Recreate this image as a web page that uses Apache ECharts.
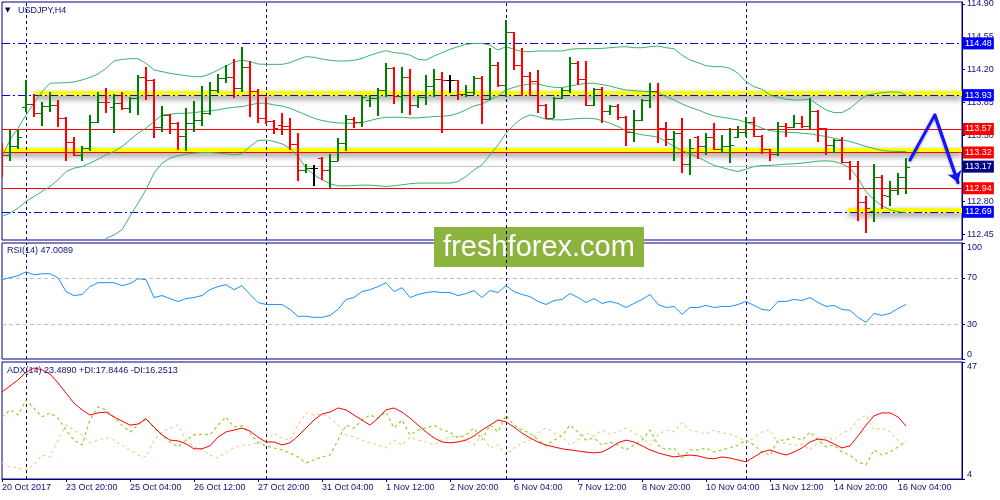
<!DOCTYPE html>
<html><head><meta charset="utf-8">
<script src="https://cdn.jsdelivr.net/npm/echarts@6/dist/echarts.min.js"></script>
<style>html,body{margin:0;padding:0;background:#fff}#c{width:1000px;height:500px}</style>
</head><body><div id="c"></div>
<script>
// ---------- DATA ----------
const tickLabels = ['20 Oct 2017','23 Oct 20:00','25 Oct 04:00','26 Oct 12:00','27 Oct 20:00','31 Oct 04:00','1 Nov 12:00','2 Nov 20:00','6 Nov 04:00','7 Nov 12:00','8 Nov 20:00','10 Nov 04:00','13 Nov 12:00','14 Nov 20:00','16 Nov 04:00'];
const weekStarts = [3, 33, 63, 93];
const priceTicks = [112.45, 112.80, 113.50, 113.85, 114.20, 114.55, 114.90];
const rsiTicks = [0, 30, 70, 100];
const rsiLevels = [30, 70];
const adxTicks = [4, 47];

const open = [113.384,113.295,113.384,113.800,113.833,113.737,113.815,113.826,113.684,113.430,
113.295,113.373,113.649,113.861,113.800,113.845,113.790,113.897,114.119,114.091,
113.596,113.720,113.631,113.500,113.638,113.667,113.737,113.985,114.116,114.125,
114.003,114.233,113.978,113.684,113.660,113.614,113.603,113.412,113.136,113.154,
113.260,113.130,113.232,113.426,113.674,113.649,113.880,113.900,113.985,114.215,
113.925,114.119,113.826,113.914,114.027,114.102,114.091,114.091,113.939,113.967,
114.116,113.890,114.250,114.038,114.597,114.250,114.134,114.081,113.826,113.684,
113.897,113.985,114.268,114.102,113.826,113.992,113.766,113.815,113.702,113.543,
113.667,113.879,113.978,113.578,113.462,113.532,113.196,113.490,113.384,113.490,
113.359,113.384,113.480,113.543,113.649,113.497,113.355,113.306,113.603,113.590,
113.630,113.600,113.766,113.578,113.401,113.454,113.217,113.180,112.793,112.700,
113.065,112.860,112.920,113.065];
const high = [113.419,113.561,113.561,114.091,113.939,113.861,113.967,113.879,113.702,113.483,
113.394,113.720,113.960,114.003,113.939,113.967,113.914,114.144,114.233,114.098,
113.815,113.730,113.649,113.790,113.868,114.027,114.066,114.155,114.250,114.314,
114.445,114.293,113.992,113.914,113.667,113.737,113.684,113.525,113.196,113.189,
113.271,113.299,113.476,113.720,113.695,113.932,113.932,114.003,114.275,114.233,
114.233,114.208,113.932,114.144,114.208,114.180,114.144,114.095,114.038,114.137,
114.134,114.427,114.279,114.728,114.604,114.434,114.180,114.197,113.833,113.914,
114.003,114.332,114.296,114.296,114.003,114.013,113.826,113.836,113.709,113.773,
113.890,114.063,114.063,113.649,113.550,113.684,113.462,113.497,113.525,113.631,
113.508,113.578,113.600,113.702,113.695,113.508,113.360,113.649,113.638,113.720,
113.709,113.897,113.770,113.585,113.462,113.490,113.225,113.225,112.853,113.196,
113.083,113.012,113.101,113.260];
const low = [113.058,113.235,113.359,113.755,113.702,113.607,113.748,113.596,113.235,113.278,
113.235,113.331,113.631,113.737,113.525,113.773,113.737,113.720,113.879,113.472,
113.543,113.515,113.348,113.331,113.543,113.603,113.720,113.950,114.063,113.904,
113.967,113.695,113.631,113.621,113.515,113.508,113.348,113.012,113.101,112.959,
113.030,112.938,113.225,113.341,113.585,113.596,113.801,113.713,113.914,113.836,
113.737,113.720,113.790,113.826,113.914,113.525,113.957,113.879,113.914,113.932,
113.621,113.879,114.020,113.914,114.197,113.925,113.925,113.744,113.674,113.684,
113.890,113.950,114.038,113.815,113.815,113.631,113.720,113.667,113.384,113.437,
113.660,113.790,113.426,113.394,113.225,113.101,113.076,113.249,113.295,113.348,
113.313,113.207,113.470,113.490,113.490,113.302,113.225,113.278,113.490,113.578,
113.578,113.568,113.437,113.295,113.313,113.207,113.030,112.588,112.464,112.577,
112.720,112.747,112.864,112.878];
const close = [113.295,113.384,113.490,113.833,113.737,113.815,113.826,113.684,113.430,113.295,
113.373,113.649,113.861,113.854,113.845,113.790,113.897,114.119,114.091,113.596,
113.720,113.631,113.500,113.638,113.667,113.737,113.985,114.116,114.125,114.003,
114.233,113.978,113.684,113.660,113.578,113.603,113.412,113.136,113.154,113.154,
113.130,113.232,113.426,113.674,113.649,113.914,113.900,113.985,114.215,113.925,
114.119,113.826,113.914,114.027,114.102,114.091,114.091,113.939,113.967,114.116,
113.890,114.250,114.038,114.597,114.250,114.134,114.081,113.826,113.684,113.897,
113.985,114.268,114.102,113.826,113.992,113.766,113.815,113.702,113.543,113.667,
113.879,113.978,113.578,113.462,113.532,113.196,113.366,113.384,113.490,113.359,
113.384,113.401,113.543,113.649,113.497,113.355,113.306,113.603,113.590,113.630,
113.600,113.766,113.578,113.401,113.454,113.217,113.180,112.793,112.729,113.065,
112.864,112.920,113.065,113.170];

const bbUpper = [113.278,113.454,113.578,113.720,113.844,113.967,114.056,114.059,114.063,114.070,
114.091,114.119,114.155,114.215,114.293,114.310,114.317,114.317,114.268,114.197,
114.180,114.162,114.148,114.137,114.126,114.126,114.155,114.197,114.240,114.282,
114.303,114.286,114.261,114.257,114.257,114.257,114.275,114.310,114.339,114.332,
114.314,114.300,114.293,114.293,114.300,114.321,114.353,114.381,114.402,114.381,
114.374,114.356,114.310,114.303,114.346,114.381,114.417,114.445,114.470,114.480,
114.480,114.462,114.409,114.445,114.417,114.392,114.392,114.399,114.399,114.399,
114.399,114.417,114.424,114.424,114.424,114.427,114.434,114.441,114.445,114.434,
114.434,114.445,114.452,114.434,114.424,114.356,114.303,114.275,114.243,114.233,
114.233,114.215,114.162,114.073,114.020,113.992,113.932,113.907,113.886,113.879,
113.879,113.886,113.826,113.773,113.744,113.744,113.790,113.861,113.928,113.943,
113.957,113.964,113.964,113.932];
const bbMiddle = [112.641,112.676,112.729,112.800,112.853,112.906,112.959,113.030,113.118,113.154,
113.171,113.207,113.249,113.295,113.331,113.384,113.454,113.525,113.578,113.649,
113.720,113.727,113.737,113.737,113.744,113.755,113.762,113.773,113.790,113.801,
113.808,113.826,113.844,113.844,113.826,113.815,113.790,113.755,113.720,113.684,
113.660,113.645,113.635,113.631,113.631,113.638,113.660,113.681,113.695,113.695,
113.695,113.688,113.688,113.695,113.702,113.706,113.713,113.737,113.773,113.815,
113.836,113.879,113.921,113.985,114.013,114.035,114.049,114.049,114.027,114.013,
114.010,114.027,114.042,114.056,114.056,114.042,114.027,114.003,113.985,113.978,
113.971,113.967,113.957,113.914,113.879,113.836,113.801,113.773,113.737,113.709,
113.695,113.681,113.667,113.642,113.614,113.578,113.553,113.543,113.536,113.532,
113.525,113.518,113.504,113.490,113.472,113.454,113.437,113.412,113.384,113.363,
113.341,113.334,113.331,113.331];
const bbLower = [null,null,null,null,null,null,null,null,null,null,
112.146,112.234,112.323,112.408,112.443,112.499,112.641,112.782,112.924,113.101,
113.207,113.260,113.285,113.302,113.313,113.320,113.320,113.313,113.306,113.295,
113.306,113.384,113.447,113.454,113.437,113.412,113.366,113.278,113.154,113.083,
113.030,112.988,112.966,112.966,112.970,112.973,112.973,112.966,112.959,112.966,
112.977,112.988,112.995,112.995,112.995,112.995,112.995,113.012,113.065,113.136,
113.189,113.295,113.401,113.525,113.614,113.684,113.720,113.702,113.674,113.667,
113.667,113.674,113.681,113.684,113.681,113.660,113.631,113.596,113.553,113.525,
113.508,113.497,113.483,113.437,113.384,113.341,113.306,113.271,113.225,113.182,
113.161,113.136,113.118,113.143,113.171,113.182,113.182,113.189,113.196,113.200,
113.207,113.217,113.228,113.232,113.225,113.200,113.154,113.048,112.906,112.818,
112.754,112.712,112.690,112.683];

const rsi = [68.4,70.1,71.8,75.2,72.6,73.5,73.5,70.1,58.1,54.7,
55.6,62.4,65.8,65.8,65.8,63.2,65.0,69.2,68.4,53.0,
54.7,52.1,49.6,52.1,53.0,54.7,59.8,62.4,64.1,59.8,
63.2,55.6,48.7,47.0,47.0,47.0,42.7,36.8,36.8,35.9,
35.9,37.6,42.7,51.3,53.0,58.1,59.8,62.4,65.8,58.1,
61.5,53.0,55.6,57.3,58.1,57.3,57.3,54.7,56.4,59.0,
53.0,59.0,57.3,63.2,58.1,55.6,53.8,49.6,47.0,50.4,
51.3,56.4,53.0,48.7,52.1,47.9,49.6,47.9,44.4,47.9,
51.3,55.6,47.0,44.4,45.3,38.5,44.4,44.4,46.2,44.4,
45.3,45.3,47.0,49.6,46.2,42.7,41.9,49.6,49.6,51.3,
50.4,53.0,48.7,45.3,46.2,42.7,41.9,35.9,31.6,39.3,
37.6,39.3,43.6,47.01];

const adx = [36.0,38.2,40.4,43.3,44.8,44.1,42.6,39.3,35.6,31.9,
29.4,27.5,28.3,28.6,26.8,25.3,23.8,24.2,26.1,23.1,
20.2,18.3,18.0,16.9,15.1,15.1,16.2,19.4,21.3,22.0,
22.7,21.6,19.4,17.6,17.6,16.5,17.3,19.8,22.7,25.7,
27.9,28.6,30.1,29.4,27.5,25.7,23.8,26.4,29.4,30.1,
28.6,26.4,23.8,21.3,19.1,17.6,17.3,17.6,18.3,19.8,
22.0,23.8,25.7,25.0,23.1,20.9,19.1,17.6,16.5,15.8,
15.1,14.7,14.3,13.9,13.6,13.9,15.4,17.3,18.3,17.6,
16.2,14.7,13.6,12.8,12.1,12.5,12.8,12.5,11.7,11.4,
12.1,11.7,11.0,10.3,12.1,13.9,14.7,13.6,12.8,13.9,
15.4,17.6,18.7,18.3,16.9,15.4,16.2,19.8,23.8,27.2,
28.3,28.3,26.8,23.49];
const plusDI = [26.8,29.4,27.5,33.0,30.1,26.8,28.3,26.4,22.0,18.3,
16.5,25.7,30.5,29.4,26.8,23.8,21.3,23.8,26.4,22.7,
20.2,17.6,15.8,18.3,20.2,20.5,20.2,23.8,26.8,23.1,
23.5,20.9,17.3,16.2,15.4,14.7,13.6,12.1,9.9,11.0,
12.1,12.8,18.3,23.8,22.7,25.7,27.5,26.4,28.6,22.7,
25.7,20.2,22.0,22.7,23.8,22.0,21.3,19.1,20.2,22.7,
18.3,23.8,21.3,27.5,23.8,22.0,20.9,18.3,16.2,18.3,
19.8,23.8,21.3,18.3,19.1,16.5,17.6,16.5,14.7,16.5,
18.3,22.0,16.5,14.7,15.4,11.7,14.7,14.7,15.4,13.9,
14.7,15.4,16.5,18.3,16.5,13.9,12.8,18.3,18.3,19.4,
18.3,21.3,18.3,15.8,16.5,13.9,12.8,10.3,9.2,14.7,
12.8,13.9,15.8,17.84];
const minusDI = [9.9,8.4,8.1,7.3,9.2,12.8,12.1,18.3,23.8,22.0,
20.2,17.3,18.3,19.1,18.3,16.2,14.7,12.8,12.1,18.3,
21.3,22.7,23.8,18.3,15.8,14.7,12.8,11.7,13.9,15.4,
16.5,16.5,17.3,18.3,20.9,19.1,18.3,23.8,28.3,27.5,
27.9,26.4,23.8,20.2,19.4,18.3,17.3,16.5,15.4,18.3,
16.5,19.4,18.3,17.6,16.5,18.3,19.4,19.8,18.3,16.5,
20.2,15.4,16.5,12.8,15.4,17.3,18.3,20.9,22.7,20.9,
19.8,16.5,18.3,20.9,19.8,22.0,20.5,21.3,22.7,20.9,
19.4,16.5,20.2,22.0,21.3,24.6,22.0,21.3,20.5,22.0,
20.9,20.5,19.4,17.6,19.1,21.3,22.0,17.3,17.3,16.2,
16.9,14.7,17.3,19.4,18.3,20.9,22.0,25.7,27.5,22.0,
22.7,21.3,18.3,16.25];

// horizontal levels drawn on the chart
const blueLevels = [114.48, 113.93, 112.69];
const redLevels = [113.57, 113.32, 112.94];
const bidLevel = 113.17;
const zoneLevels = [113.93, 113.32, 112.69];
const zoneStartBars = [4.1, 0, 105.75];
const arrowPath = [[113.5, 113.24], [116.6, 113.72], [119.5, 113.0]];

// ---------- CHART ----------
const FONT = 'Liberation Sans';
const NAVY = '#000080';
const TXT = '#10107a';
const X_MAX = 120;
const chart = echarts.init(document.getElementById('c'), null, {renderer: 'canvas'});

function toXY(arr) { return arr.map((v, i) => [i, v]); }

function xAxisCfg(gridIndex, show) {
  return {
    type: 'value', gridIndex, min: 0, max: X_MAX, interval: 8, show,
    axisLine: {show: true, onZero: false, lineStyle: {color: NAVY}},
    axisTick: {show: true, length: 3, lineStyle: {color: NAVY}},
    axisLabel: {color: TXT, fontFamily: FONT, fontSize: 9, align: 'left', margin: 4,
      showMinLabel: true, showMaxLabel: false,
      formatter: v => tickLabels[Math.round(v / 8)] || ''},
    splitLine: {show: false}
  };
}
function yAxisCfg(gridIndex, min, max, ticks, fmt, edgeAlign) {
  const lab = {color: TXT, fontFamily: FONT, fontSize: 9, margin: 5, customValues: ticks, formatter: fmt};
  if (edgeAlign) { lab.verticalAlignMinLabel = 'bottom'; lab.verticalAlignMaxLabel = 'top'; }
  return {
    type: 'value', gridIndex, position: 'right', min, max, scale: true,
    axisLine: {show: true, onZero: false, lineStyle: {color: NAVY}},
    axisTick: {show: true, length: 3, customValues: ticks, lineStyle: {color: NAVY}},
    axisLabel: lab,
    splitLine: {show: false}
  };
}
const sepLines = weekStarts.map(v => ({xAxis: v}));
const sepMarkLine = {
  silent: true, symbol: ['none', 'none'], z: 1,
  label: {show: false},
  lineStyle: {color: NAVY, type: [3, 3], width: 1},
  data: sepLines
};

const levelLabel = {show: true, position: 'end', distance: 1, color: '#ffffff', fontFamily: FONT, fontSize: 9,
  padding: [2, 2, 1, 2], formatter: p => Number(p.value).toFixed(2)};
const levelData = []
  .concat(sepLines.map(s => Object.assign({}, s, {label: {show: false}, lineStyle: {color: NAVY, type: [3, 3], width: 1}})))
  .concat(blueLevels.map(v => ({yAxis: v, lineStyle: {color: '#0000ee', type: [8, 3, 2, 3], width: 1}, label: {backgroundColor: '#0000ff'}})))
  .concat(redLevels.map(v => ({yAxis: v, lineStyle: {color: '#ff0000', type: 'solid', width: 1}, label: {backgroundColor: '#ff0000'}})))
  .concat([{yAxis: bidLevel, lineStyle: {color: '#c8c8c8', type: 'solid', width: 1}, label: {backgroundColor: '#000080'}}]);

const zoneData = zoneLevels.map((v, k) => [
  {coord: [zoneStartBars[k], v + 0.02]}, {coord: [X_MAX, v + 0.02]}
]);

const ohlc = open.map((o, i) => [i, o, high[i], low[i], close[i]]);

function renderBar(params, api) {
  const i = api.value(0), o = api.value(1), h = api.value(2), l = api.value(3), c = api.value(4);
  const pH = api.coord([i, h]), pL = api.coord([i, l]), pO = api.coord([i, o]), pC = api.coord([i, c]);
  const color = c > o ? '#008000' : (c < o ? '#ff0000' : '#000000');
  const x = Math.round(pH[0]);
  const yo = Math.round(pO[1]) + 0.5, yc = Math.round(pC[1]) + 0.5;
  return {type: 'group', children: [
    {type: 'line', shape: {x1: x, y1: Math.round(pH[1]), x2: x, y2: Math.round(pL[1])}, style: {stroke: color, lineWidth: 2}},
    {type: 'line', shape: {x1: x - 4, y1: yo, x2: x, y2: yo}, style: {stroke: color, lineWidth: 1}},
    {type: 'line', shape: {x1: x, y1: yc, x2: x + 4, y2: yc}, style: {stroke: color, lineWidth: 1}}
  ]};
}

const bbStyle = {color: '#3cb371', width: 1};
const titleStyle = {fontSize: 9, color: TXT, fontFamily: FONT, fontWeight: 'normal'};

const option = {
  animation: false,
  backgroundColor: '#ffffff',
  title: [
    {text: '▼', left: 5, top: 7, padding: 0, textStyle: {fontSize: 7, color: '#000040', fontFamily: 'DejaVu Sans', fontWeight: 'normal'}},
    {text: 'USDJPY,H4', left: 18, top: 6, padding: 0, textStyle: titleStyle},
    {text: 'RSI(14) 47.0089', left: 7, top: 246, padding: 0, textStyle: titleStyle},
    {text: 'ADX(14) 23.4890 +DI:17.8446 -DI:16.2513', left: 7, top: 366, padding: 0, textStyle: titleStyle}
  ],
  grid: [
    {left: 2, right: 38, top: 2, height: 238, show: true, borderColor: NAVY, borderWidth: 1, backgroundColor: '#fff', outerBoundsMode: 'none'},
    {left: 2, right: 38, top: 243, height: 116, show: true, borderColor: NAVY, borderWidth: 1, backgroundColor: '#fff', outerBoundsMode: 'none'},
    {left: 2, right: 38, top: 362, height: 117, show: true, borderColor: NAVY, borderWidth: 1, backgroundColor: '#fff', outerBoundsMode: 'none'}
  ],
  xAxis: [xAxisCfg(0, false), xAxisCfg(1, false), xAxisCfg(2, true)],
  yAxis: [
    yAxisCfg(0, 112.39, 114.92, priceTicks, v => v.toFixed(2), false),
    yAxisCfg(1, 0, 100, rsiTicks, v => String(v), true),
    yAxisCfg(2, 4, 47, adxTicks, v => String(v), true)
  ],
  graphic: [{
    type: 'group', left: 434, top: 227, z: 100,
    children: [
      {type: 'rect', shape: {x: 0, y: 0, width: 210, height: 40}, style: {fill: '#8db33f'}},
      {type: 'text', x: 105, y: 21, style: {text: 'freshforex.com', fill: '#ffffff', fontSize: 29, fontFamily: FONT, align: 'center', verticalAlign: 'middle'}}
    ]
  }],
  series: [
    {name: 'zones', type: 'line', xAxisIndex: 0, yAxisIndex: 0, data: [], z: 1,
      markLine: {silent: true, symbol: ['none', 'none'], z: 1, label: {show: false},
        lineStyle: {color: '#ffff00', width: 5, type: 'solid', shadowColor: 'rgba(0,0,0,0.45)', shadowBlur: 6, shadowOffsetY: 3},
        data: zoneData}},
    {name: 'levels', type: 'line', xAxisIndex: 0, yAxisIndex: 0, data: [], z: 2,
      markLine: {silent: true, symbol: ['none', 'none'], z: 2, label: levelLabel, data: levelData}},
    {name: 'BB upper', type: 'line', xAxisIndex: 0, yAxisIndex: 0, data: toXY(bbUpper), symbol: 'none', lineStyle: bbStyle, z: 3},
    {name: 'BB middle', type: 'line', xAxisIndex: 0, yAxisIndex: 0, data: toXY(bbMiddle), symbol: 'none', lineStyle: bbStyle, z: 3},
    {name: 'BB lower', type: 'line', xAxisIndex: 0, yAxisIndex: 0, data: toXY(bbLower), symbol: 'none', lineStyle: bbStyle, z: 3, connectNulls: false},
    {name: 'USDJPY', type: 'custom', xAxisIndex: 0, yAxisIndex: 0, data: ohlc, renderItem: renderBar,
      encode: {x: 0, y: [1, 2, 3, 4]}, clip: true, z: 4},
    {name: 'arrow', type: 'line', xAxisIndex: 0, yAxisIndex: 0, data: arrowPath, symbol: 'none', z: 10,
      lineStyle: {color: '#1414ff', width: 3, cap: 'round', join: 'round', shadowColor: 'rgba(0,0,0,0.35)', shadowBlur: 3, shadowOffsetY: 1},
      markLine: {silent: true, z: 10, symbol: ['none', 'arrow'], symbolSize: 11, label: {show: false},
        lineStyle: {color: '#1414ff', width: 3, type: 'solid'},
        data: [[{coord: arrowPath[1]}, {coord: arrowPath[2]}]]}},
    {name: 'RSI', type: 'line', xAxisIndex: 1, yAxisIndex: 1, data: toXY(rsi), symbol: 'none', z: 3,
      lineStyle: {color: '#1e90ff', width: 1},
      markLine: {silent: true, symbol: ['none', 'none'], z: 1, label: {show: false},
        data: rsiLevels.map(v => ({yAxis: v, lineStyle: {color: '#c0c0c0', type: [4, 3], width: 1}}))
          .concat(sepLines.map(s => Object.assign({}, s, {lineStyle: {color: NAVY, type: [3, 3], width: 1}})))}},
    {name: '+DI', type: 'line', xAxisIndex: 2, yAxisIndex: 2, data: toXY(plusDI), symbol: 'none', z: 3,
      lineStyle: {color: '#9acd32', width: 1.2, type: [3, 3]}, markLine: sepMarkLine},
    {name: '-DI', type: 'line', xAxisIndex: 2, yAxisIndex: 2, data: toXY(minusDI), symbol: 'none', z: 3,
      lineStyle: {color: '#f3cf96', width: 1.2, type: [3, 3]}},
    {name: 'ADX', type: 'line', xAxisIndex: 2, yAxisIndex: 2, data: toXY(adx), symbol: 'none', z: 4,
      lineStyle: {color: '#ff0000', width: 1}}
  ]
};
chart.setOption(option);
</script></body></html>
